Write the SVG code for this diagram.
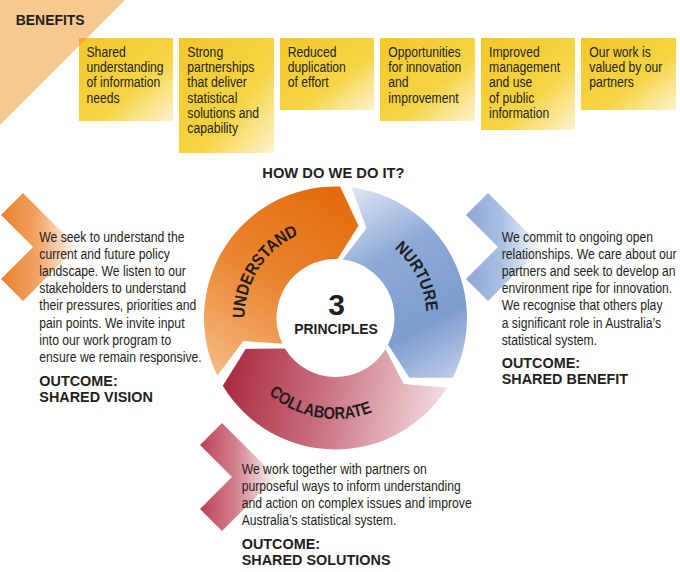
<svg xmlns="http://www.w3.org/2000/svg" width="680" height="572" viewBox="0 0 680 572">
<style>
.t{font-family:"Liberation Sans",Arial,sans-serif;fill:#231F20}
.body{font-size:14px}
.bx{font-size:14px}
.hd{font-size:15.5px;font-weight:bold}
.arc{font-family:"Liberation Sans",Arial,sans-serif;font-size:17px;font-weight:bold;fill:#1E1E1E}
.box{fill:url(#gBox)}
</style>
<defs>
<linearGradient id="gBox" x1="0" y1="0" x2="1" y2="1">
<stop offset="0" stop-color="#F3C82A"/><stop offset="0.6" stop-color="#F6D444"/><stop offset="1" stop-color="#FDF3D0"/>
</linearGradient>
<linearGradient id="gOr" gradientUnits="userSpaceOnUse" x1="330" y1="190" x2="215" y2="380">
<stop offset="0" stop-color="#E46C0C"/><stop offset="0.5" stop-color="#EA8632"/><stop offset="1" stop-color="#F6BD86"/>
</linearGradient>
<linearGradient id="gBl" gradientUnits="userSpaceOnUse" x1="345" y1="190" x2="455" y2="385">
<stop offset="0" stop-color="#E0E8F4"/><stop offset="0.35" stop-color="#8DA9D6"/><stop offset="0.7" stop-color="#7D9CCF"/><stop offset="1" stop-color="#C3D1EA"/>
</linearGradient>
<linearGradient id="gCo" gradientUnits="userSpaceOnUse" x1="225" y1="360" x2="450" y2="400">
<stop offset="0" stop-color="#A9283F"/><stop offset="0.45" stop-color="#C9707F"/><stop offset="1" stop-color="#F5E1E4"/>
</linearGradient>
<linearGradient id="gChO" gradientUnits="userSpaceOnUse" x1="0" y1="0" x2="80" y2="0">
<stop offset="0" stop-color="#E8802C"/><stop offset="0.45" stop-color="#F0A262"/><stop offset="1" stop-color="#FFFFFF"/>
</linearGradient>
<linearGradient id="gChB" gradientUnits="userSpaceOnUse" x1="465" y1="0" x2="545" y2="0">
<stop offset="0" stop-color="#8AA6D5"/><stop offset="0.45" stop-color="#A9BFE2"/><stop offset="1" stop-color="#FFFFFF"/>
</linearGradient>
<linearGradient id="gChC" gradientUnits="userSpaceOnUse" x1="199" y1="0" x2="279" y2="0">
<stop offset="0" stop-color="#BE4058"/><stop offset="0.45" stop-color="#D17F8D"/><stop offset="1" stop-color="#FFFFFF"/>
</linearGradient>
<path id="pU" d="M 254.42 359.31 A 91 91 0 0 1 340.26 227.12"/>
<path id="pN" d="M 340.26 227.12 A 91 91 0 0 1 411.82 367.56"/>
<path id="pC" d="M 240.59 352.54 A 101 101 0 0 0 412.87 382.92"/>
</defs>

<g id="benefits-header">
<polygon points="0,0 125,0 0,125" fill="#F7C98F"/>
<text class="t hd" transform="translate(15.7 25) scale(0.9 1)">BENEFITS</text>
</g>

<g id="benefit-1">
<rect class="box" x="79" y="38" width="94" height="83"/>
<polygon points="79,38 87,38 79,46" fill="#F1A934"/>
<text class="t bx" transform="translate(86.5 56.7) scale(0.87 1)"><tspan x="0" y="0">Shared</tspan><tspan x="0" y="15.3">understanding</tspan><tspan x="0" y="30.6">of information</tspan><tspan x="0" y="45.9">needs</tspan></text>
</g>
<g id="benefit-2">
<rect class="box" x="179" y="38" width="95" height="115"/>
<text class="t bx" transform="translate(187.3 56.7) scale(0.87 1)"><tspan x="0" y="0">Strong</tspan><tspan x="0" y="15.3">partnerships</tspan><tspan x="0" y="30.6">that deliver</tspan><tspan x="0" y="45.9">statistical</tspan><tspan x="0" y="61.2">solutions and</tspan><tspan x="0" y="76.5">capability</tspan></text>
</g>
<g id="benefit-3">
<rect class="box" x="280" y="38" width="94" height="72"/>
<text class="t bx" transform="translate(287.7 56.7) scale(0.87 1)"><tspan x="0" y="0">Reduced</tspan><tspan x="0" y="15.3">duplication</tspan><tspan x="0" y="30.6">of effort</tspan></text>
</g>
<g id="benefit-4">
<rect class="box" x="380" y="38" width="95" height="83"/>
<text class="t bx" transform="translate(388.3 56.7) scale(0.87 1)"><tspan x="0" y="0">Opportunities</tspan><tspan x="0" y="15.3">for innovation</tspan><tspan x="0" y="30.6">and</tspan><tspan x="0" y="45.9">improvement</tspan></text>
</g>
<g id="benefit-5">
<rect class="box" x="481" y="38" width="94" height="92"/>
<text class="t bx" transform="translate(489 56.7) scale(0.87 1)"><tspan x="0" y="0">Improved</tspan><tspan x="0" y="15.3">management</tspan><tspan x="0" y="30.6">and use</tspan><tspan x="0" y="45.9">of public</tspan><tspan x="0" y="61.2">information</tspan></text>
</g>
<g id="benefit-6">
<rect class="box" x="581" y="38" width="95" height="72"/>
<text class="t bx" transform="translate(589.3 56.7) scale(0.87 1)"><tspan x="0" y="0">Our work is</tspan><tspan x="0" y="15.3">valued by our</tspan><tspan x="0" y="30.6">partners</tspan></text>
</g>

<g id="title">
<text class="t hd" text-anchor="middle" transform="translate(333.4 178.3) scale(0.95 1)">HOW DO WE DO IT?</text>
</g>

<g id="understand">
<path d="M 217.31 375.65 A 131.5 131.5 0 0 1 340.09 186.58 L 358.48 225.82 L 337.56 259.04 A 59 59 0 0 0 282.47 343.87 L 243.32 340.98 Z" fill="url(#gOr)"/>
<text class="arc"><textPath href="#pU" startOffset="50%" text-anchor="middle" textLength="105" lengthAdjust="spacingAndGlyphs">UNDERSTAND</textPath></text>
</g>
<g id="nurture">
<path d="M 351.53 187.48 A 131.5 131.5 0 0 1 452.67 377.70 L 409.32 377.78 L 388.07 344.79 A 59 59 0 0 0 342.69 259.44 L 366.43 228.18 Z" fill="url(#gBl)"/>
<text class="arc"><textPath href="#pN" startOffset="50%" text-anchor="middle" textLength="73" lengthAdjust="spacingAndGlyphs">NURTURE</textPath></text>
</g>
<g id="collaborate">
<path d="M 447.01 387.68 A 131.5 131.5 0 0 1 222.78 385.73 L 245.68 348.93 L 284.93 348.39 A 59 59 0 0 0 385.53 349.26 L 403.83 384.00 Z" fill="url(#gCo)"/>
<text class="arc"><textPath href="#pC" startOffset="50%" text-anchor="middle" textLength="111" lengthAdjust="spacingAndGlyphs">COLLABORATE</textPath></text>
</g>
<g id="principles">
<text class="t" text-anchor="middle" x="336.5" y="315" style="font-size:30px;font-weight:bold">3</text>
<text class="t hd" text-anchor="middle" transform="translate(336 334.3) scale(0.9 1)">PRINCIPLES</text>
</g>

<g id="understand-detail">
<polygon points="23,193 77,247 23,301 1,279 33,247 1,215" fill="url(#gChO)"/>
<text class="t body" transform="translate(39.3 241.7) scale(0.87 1)"><tspan x="0" y="0">We seek to understand the</tspan><tspan x="0" y="17.2">current and future policy</tspan><tspan x="0" y="34.4">landscape. We listen to our</tspan><tspan x="0" y="51.6">stakeholders to understand</tspan><tspan x="0" y="68.8">their pressures, priorities and</tspan><tspan x="0" y="86">pain points. We invite input</tspan><tspan x="0" y="103.2">into our work program to</tspan><tspan x="0" y="120.4">ensure we remain responsive.</tspan></text>
<text class="t hd" transform="translate(39.3 386) scale(0.93 1)"><tspan x="0" y="0">OUTCOME:</tspan><tspan x="0" y="16">SHARED VISION</tspan></text>
</g>

<g id="nurture-detail">
<polygon points="488,193 542,247 488,301 466,279 498,247 466,215" fill="url(#gChB)"/>
<text class="t body" transform="translate(501.7 241.7) scale(0.87 1)"><tspan x="0" y="0">We commit to ongoing open</tspan><tspan x="0" y="17.2">relationships. We care about our</tspan><tspan x="0" y="34.4">partners and seek to develop an</tspan><tspan x="0" y="51.6">environment ripe for innovation.</tspan><tspan x="0" y="68.8">We recognise that others play</tspan><tspan x="0" y="86">a significant role in Australia’s</tspan><tspan x="0" y="103.2">statistical system.</tspan></text>
<text class="t hd" transform="translate(501.7 368.3) scale(0.93 1)"><tspan x="0" y="0">OUTCOME:</tspan><tspan x="0" y="16">SHARED BENEFIT</tspan></text>
</g>

<g id="collaborate-detail">
<polygon points="222,423 276,477 222,531 200,509 232,477 200,445" fill="url(#gChC)"/>
<text class="t body" transform="translate(241.7 474) scale(0.87 1)"><tspan x="0" y="0">We work together with partners on</tspan><tspan x="0" y="17">purposeful ways to inform understanding</tspan><tspan x="0" y="34.2">and action on complex issues and improve</tspan><tspan x="0" y="51">Australia’s statistical system.</tspan></text>
<text class="t hd" transform="translate(241.7 549) scale(0.93 1)"><tspan x="0" y="0">OUTCOME:</tspan><tspan x="0" y="16">SHARED SOLUTIONS</tspan></text>
</g>
</svg>
